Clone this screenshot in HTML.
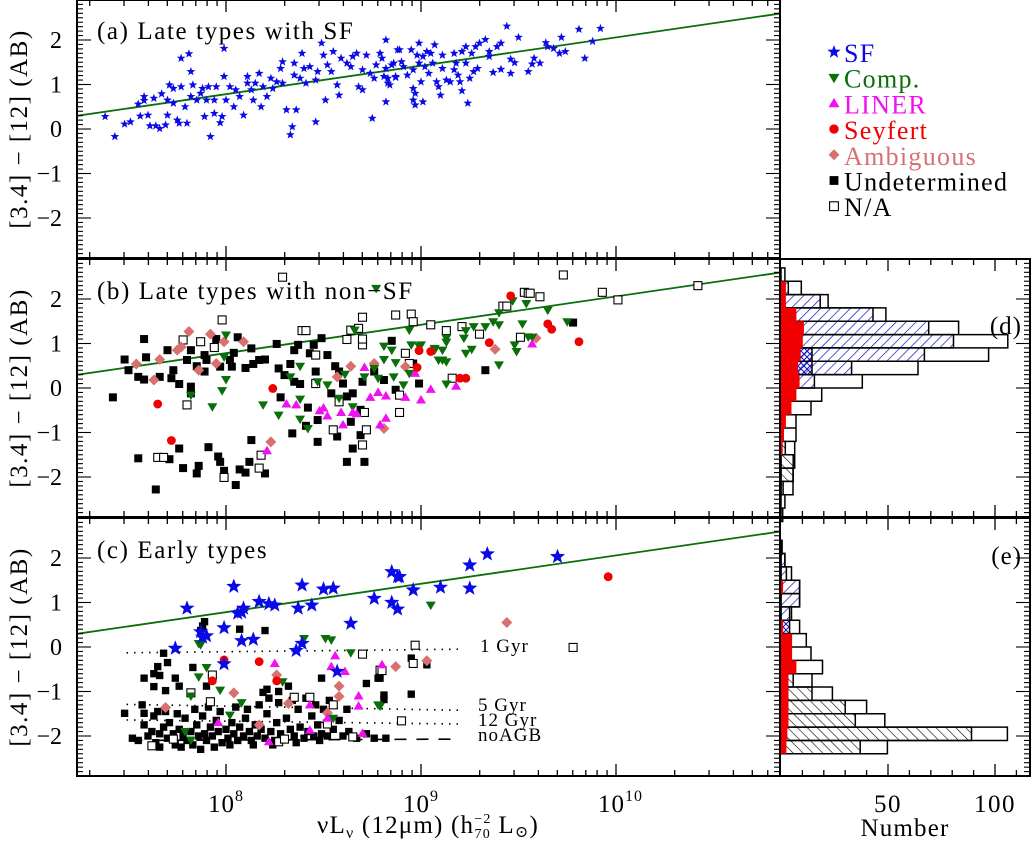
<!DOCTYPE html>
<html><head><meta charset="utf-8"><style>
html,body{margin:0;padding:0;background:#fff}
svg{display:block}
text{font-family:"Liberation Serif","DejaVu Serif",serif;fill:#000}
</style></head><body>
<svg id="chart" width="1036" height="842" viewBox="0 0 1036 842" xmlns="http://www.w3.org/2000/svg">
<defs>
<pattern id="hatchBlue" patternUnits="userSpaceOnUse" width="7" height="7" patternTransform="rotate(45)"><line x1="0" y1="0" x2="0" y2="7" stroke="#1010c0" stroke-width="1.4"/></pattern>
<pattern id="hatchBlack" patternUnits="userSpaceOnUse" width="7" height="7" patternTransform="rotate(-45)"><line x1="0" y1="0" x2="0" y2="7" stroke="#000" stroke-width="1.2"/></pattern>
<pattern id="hatchCross" patternUnits="userSpaceOnUse" width="6" height="6"><path d="M0,0L6,6M6,0L0,6" stroke="#1010c0" stroke-width="1"/></pattern>
</defs>
<g id="marks"></g>
<g id="axes"></g>
<text x="97" y="39" font-size="25" letter-spacing="1.6">(a) Late types with SF</text>
<text x="97" y="299" font-size="25" letter-spacing="1.6">(b) Late types with non−SF</text>
<text x="97" y="558" font-size="25" letter-spacing="1.6">(c) Early types</text>
<text x="1022" y="334" font-size="25" text-anchor="end" letter-spacing="1">(d)</text>
<text x="1022" y="564" font-size="25" text-anchor="end" letter-spacing="1">(e)</text>
<text x="480" y="652" font-size="19" letter-spacing="1">1 Gyr</text>
<text x="478" y="711" font-size="19" letter-spacing="1">5 Gyr</text>
<text x="478" y="726" font-size="19" letter-spacing="1">12 Gyr</text>
<text x="478" y="741" font-size="19" letter-spacing="1">noAGB</text>
<text x="428" y="833" font-size="25" letter-spacing="1.2" text-anchor="middle">νL<tspan font-size="16" dy="5">ν</tspan><tspan dy="-5"> (12μm) (h</tspan><tspan font-size="14" dy="-10">−2</tspan><tspan font-size="14" dx="-17" dy="15">70</tspan><tspan dy="-5">  L</tspan><tspan font-size="16" dy="4">⊙</tspan><tspan dy="-4">)</tspan></text>
<text x="905" y="836" font-size="25" letter-spacing="1.2" text-anchor="middle">Number</text>
<text transform="translate(27,129) rotate(-90)" font-size="25" letter-spacing="1.5" text-anchor="middle">[3.4] − [12] (AB)</text>
<text transform="translate(27,388) rotate(-90)" font-size="25" letter-spacing="1.5" text-anchor="middle">[3.4] − [12] (AB)</text>
<text transform="translate(27,647) rotate(-90)" font-size="25" letter-spacing="1.5" text-anchor="middle">[3.4] − [12] (AB)</text>
<g id="legend"></g>
</svg>
<script>
// ---------- data ----------
const aSF = [[7.38,0.28],[7.43,-0.17],[7.48,0.11],[7.51,0.16],[7.55,0.56],[7.56,0.29],[7.58,0.73],[7.58,0.64],[7.60,0.31],[7.61,0.07],[7.63,0.69],[7.64,0.07],[7.66,0.01],[7.67,0.79],[7.69,0.09],[7.70,0.31],[7.70,0.65],[7.71,0.99],[7.73,0.91],[7.73,0.58],[7.75,0.20],[7.76,0.13],[7.77,1.59],[7.77,0.95],[7.79,0.50],[7.80,0.13],[7.81,1.69],[7.82,0.73],[7.82,1.29],[7.83,0.99],[7.85,0.65],[7.87,0.80],[7.88,0.91],[7.89,0.28],[7.90,0.65],[7.91,0.95],[7.92,-0.17],[7.94,0.35],[7.94,0.65],[7.95,0.95],[7.97,0.14],[7.98,0.28],[7.99,1.81],[7.99,1.18],[8.00,0.65],[8.02,0.95],[8.04,0.50],[8.05,0.88],[8.07,0.73],[8.09,0.31],[8.11,1.03],[8.11,1.18],[8.13,0.88],[8.14,0.65],[8.15,1.03],[8.17,1.25],[8.18,0.50],[8.19,0.95],[8.21,0.73],[8.23,1.14],[8.24,0.91],[8.26,1.06],[8.28,1.36],[8.29,1.51],[8.29,1.03],[8.31,0.43],[8.33,-0.13],[8.34,0.05],[8.35,1.48],[8.35,1.21],[8.36,0.43],[8.38,1.14],[8.39,1.70],[8.40,1.36],[8.41,1.03],[8.43,1.40],[8.46,1.10],[8.46,0.16],[8.47,1.29],[8.49,1.93],[8.50,1.66],[8.51,0.65],[8.52,1.44],[8.54,1.29],[8.55,1.74],[8.57,0.99],[8.58,0.76],[8.59,1.59],[8.62,1.48],[8.64,1.40],[8.65,1.63],[8.67,1.70],[8.68,0.95],[8.70,1.33],[8.70,0.88],[8.72,1.66],[8.74,1.25],[8.75,0.24],[8.76,1.14],[8.77,1.44],[8.79,1.70],[8.81,1.18],[8.82,2.00],[8.82,0.61],[8.83,1.03],[8.85,1.44],[8.87,1.18],[8.88,1.78],[8.80,1.59],[8.82,1.36],[8.83,1.14],[8.84,0.99],[8.87,1.16],[8.86,1.48],[8.89,1.78],[8.90,1.51],[8.91,1.40],[8.93,1.21],[8.95,1.78],[8.96,1.33],[8.96,0.91],[8.96,0.65],[8.97,0.54],[8.97,0.80],[8.98,1.66],[8.99,1.93],[8.99,1.48],[9.00,1.06],[9.01,0.61],[9.01,1.63],[9.02,1.40],[9.03,1.74],[9.04,1.25],[9.05,1.70],[9.06,1.48],[9.07,1.89],[9.08,1.06],[9.09,0.95],[9.10,0.76],[9.11,1.66],[9.11,1.36],[9.13,1.10],[9.15,1.06],[9.17,1.70],[9.17,1.33],[9.18,1.48],[9.19,1.21],[9.20,1.06],[9.21,1.74],[9.21,0.86],[9.23,1.48],[9.23,1.85],[9.24,0.58],[9.25,1.14],[9.26,1.70],[9.27,1.29],[9.28,1.85],[9.29,1.36],[9.30,1.93],[9.33,2.01],[9.35,1.74],[9.35,1.63],[9.37,1.27],[9.39,1.85],[9.41,1.93],[9.41,1.34],[9.44,2.31],[9.46,1.57],[9.46,1.25],[9.48,1.49],[9.50,2.06],[9.55,1.29],[9.57,1.46],[9.58,1.59],[9.61,1.48],[9.64,1.94],[9.65,1.85],[9.68,1.81],[9.71,1.70],[9.72,2.06],[9.74,1.74],[9.81,2.24],[9.84,1.59],[9.88,1.97],[9.92,2.26]];
const bUndet = [[7.42,-0.21],[7.48,0.64],[7.50,0.40],[7.55,0.25],[7.58,0.19],[7.58,1.10],[7.59,0.69],[7.66,0.25],[7.70,0.85],[7.72,0.22],[7.73,0.40],[7.76,0.09],[7.80,0.63],[7.82,0.03],[7.82,0.85],[7.82,-0.12],[7.85,0.49],[7.89,0.37],[7.89,0.74],[7.90,0.63],[7.95,1.10],[7.97,0.48],[8.02,0.63],[8.03,0.48],[8.04,0.79],[8.06,1.14],[8.10,0.45],[8.13,0.89],[8.14,0.54],[8.17,0.63],[8.20,0.64],[8.26,0.99],[8.27,0.44],[8.28,-0.21],[8.30,0.29],[8.33,0.54],[8.35,0.85],[8.35,0.14],[8.37,0.97],[8.38,0.09],[8.42,-0.44],[8.43,0.78],[8.45,0.97],[8.46,0.37],[8.47,-0.72],[8.49,1.12],[8.52,0.74],[8.54,-0.12],[8.56,0.49],[8.58,0.37],[8.60,0.10],[8.62,-0.19],[8.65,-0.12],[8.64,-0.76],[8.69,-0.49],[8.69,-1.06],[8.70,0.14],[8.71,-1.66],[8.62,-1.66],[8.65,-1.36],[8.57,-1.09],[8.47,-1.21],[8.41,-0.85],[8.34,-1.02],[8.20,-1.92],[8.13,-1.17],[8.12,-1.66],[8.10,-1.90],[8.07,-1.83],[8.05,-2.18],[7.99,-1.86],[7.97,-1.66],[7.96,-1.54],[7.91,-1.33],[7.86,-1.75],[7.85,-1.92],[7.78,-1.80],[7.76,-1.36],[7.71,-1.60],[7.64,-2.28],[7.55,-1.58],[8.85,1.06],[8.81,0.18],[8.76,0.37],[8.96,0.55],[8.99,0.10],[8.87,-0.04],[9.78,1.47],[9.33,0.40]];
const bNA = [[8.29,2.49],[7.98,1.53],[7.78,1.08],[7.87,1.04],[7.94,0.91],[7.80,-0.38],[7.65,-1.56],[7.68,-1.56],[7.99,-2.01],[8.17,-1.80],[8.18,-1.51],[8.39,1.29],[8.41,1.29],[8.46,0.74],[8.46,0.10],[8.55,-0.94],[8.58,-0.31],[8.62,1.09],[8.64,1.30],[8.68,1.34],[8.70,1.59],[8.70,0.97],[8.70,1.10],[8.71,-0.55],[8.72,-0.94],[8.70,-1.28],[8.87,1.64],[8.95,1.66],[8.96,1.49],[8.94,0.55],[8.89,-0.16],[8.89,-0.55],[9.05,1.42],[8.92,0.78],[9.13,1.29],[9.21,1.38],[9.30,1.21],[9.42,1.84],[9.44,1.84],[9.53,2.15],[9.55,2.13],[9.56,2.13],[9.61,2.05],[9.73,2.54],[9.93,2.15],[10.01,1.98],[10.42,2.30],[9.51,1.14],[9.16,0.22]];
const bComp = [[8.00,1.19],[7.99,0.70],[8.00,0.19],[7.98,-0.06],[7.82,-0.16],[7.93,-0.42],[8.19,-0.38],[8.27,-0.61],[8.33,0.25],[8.38,0.49],[8.38,-0.25],[8.38,-0.70],[8.42,-0.91],[8.47,0.14],[8.52,0.07],[8.58,-0.23],[8.61,0.31],[8.66,1.30],[8.65,-0.42],[8.71,0.25],[8.76,0.44],[8.78,0.22],[8.81,0.94],[8.81,0.64],[8.85,0.85],[8.87,0.57],[8.86,0.25],[8.91,0.07],[8.94,1.30],[8.95,0.97],[8.94,0.33],[8.99,0.94],[9.00,0.97],[9.07,0.89],[9.09,0.63],[8.77,2.24],[9.07,0.85],[9.11,0.85],[9.11,0.63],[9.13,0.59],[9.13,1.12],[9.13,1.03],[9.22,1.12],[9.23,1.29],[9.27,1.38],[9.33,1.38],[9.37,1.49],[9.40,1.42],[9.40,1.69],[9.47,1.96],[9.54,1.90],[9.65,1.75],[9.75,1.49],[9.52,1.44],[9.55,1.15],[9.57,1.14],[9.48,0.97],[9.49,0.82],[9.26,0.87],[9.23,0.78],[9.40,0.52],[9.13,0.09]];
const bSey = [[7.65,-0.36],[7.72,-1.18],[8.24,-0.01],[8.99,0.84],[9.05,0.82],[8.98,0.46],[9.46,2.07],[9.35,1.02],[9.65,1.44],[9.67,1.32],[9.81,1.04],[9.20,0.22],[9.23,0.22]];
const bLiner = [[8.21,-1.41],[8.31,-0.36],[8.36,-0.38],[8.48,-0.51],[8.50,-0.45],[8.52,-0.63],[8.59,-0.55],[8.65,-0.55],[8.67,-0.58],[8.71,0.46],[8.74,-0.21],[8.78,-0.10],[8.82,-0.18],[8.82,-0.68],[8.79,-0.83],[8.92,-0.21],[8.97,0.33],[9.00,-0.27],[9.05,-0.03],[8.60,-0.83],[9.18,0.04],[9.57,0.99]];
const bAmb = [[7.54,0.54],[7.63,0.18],[7.66,0.64],[7.75,0.85],[7.77,0.92],[7.81,1.27],[7.92,1.21],[7.99,1.04],[8.09,1.04],[7.95,0.55],[7.86,0.40],[8.23,-1.21],[8.64,0.49],[8.76,0.55],[8.81,-0.91],[8.92,0.48],[8.57,0.25],[9.38,0.87],[9.59,1.12]];
const cSF = [[7.80,0.87],[7.74,-0.03],[7.87,0.34],[7.90,0.25],[7.88,0.22],[7.99,0.43],[8.04,1.36],[8.06,0.76],[8.09,0.87],[8.08,0.78],[8.08,0.14],[8.14,0.17],[8.17,1.02],[8.22,0.97],[8.25,0.94],[7.99,-0.38],[8.36,-0.08],[8.39,0.08],[8.37,0.87],[8.39,1.39],[8.44,0.94],[8.50,1.30],[8.55,1.32],[8.64,0.53],[8.57,-0.55],[8.76,1.09],[8.85,1.69],[8.88,1.58],[8.89,1.58],[8.85,1.00],[8.88,0.85],[8.96,1.28],[9.10,1.34],[9.25,1.84],[9.34,2.09],[9.25,1.32],[9.70,2.03]];
const cComp = [[9.05,0.94],[7.86,0.08],[7.87,0.05],[7.90,-0.46],[7.86,-0.67],[7.97,-0.97],[7.82,-1.10],[8.08,-1.25],[8.02,-1.53],[7.79,-1.90],[7.82,-2.09],[8.29,-0.78],[8.40,0.19],[8.51,0.19],[8.54,0.16],[8.64,-0.13],[8.55,-1.60],[8.78,-1.30],[8.79,-1.33]];
const cSey = [[7.99,-0.29],[8.17,-0.33],[7.93,-0.76],[8.26,-0.76],[9.96,1.58]];
const cLiner = [[8.25,-0.37],[8.56,-0.20],[8.54,-0.44],[8.61,-0.55],[8.68,-1.10],[8.68,-1.33],[8.43,-1.30],[8.52,-1.60],[8.43,-1.87],[8.70,-1.94],[8.22,-2.13],[7.96,-1.70],[8.80,-0.40]];
const cAmb = [[8.26,-0.63],[8.04,-1.03],[7.69,-1.36],[8.32,-1.27],[8.17,-1.75],[8.58,-0.88],[8.58,-1.11],[8.52,-1.48],[8.87,-0.44],[9.03,-0.31],[9.44,0.55]];
const cNA = [[8.70,-0.16],[7.93,-0.63],[7.82,-1.03],[7.92,-1.23],[8.35,-1.13],[8.43,-1.13],[8.55,-1.30],[8.52,-1.73],[8.65,-2.02],[8.27,-2.13],[8.30,-2.07],[7.73,-2.07],[7.62,-2.22],[8.79,-0.52],[8.97,0.04],[8.96,-0.37],[8.80,-0.53],[8.90,-1.66],[9.78,-0.01]];
const cUndet = [[7.89,0.57],[7.88,0.47],[7.87,0.37],[8.07,0.40],[8.20,0.37],[7.68,-0.14],[7.65,-0.44],[7.70,-0.35],[7.58,-0.70],[7.63,-0.60],[7.66,-0.64],[7.63,-0.89],[7.74,-0.70],[7.76,-0.88],[7.69,-0.98],[7.83,-0.46],[7.90,-0.88],[8.49,-0.70],[8.32,-0.88],[8.27,-1.00],[8.19,-1.02],[8.21,-0.95],[8.72,-0.82],[8.78,-0.70],[7.57,-1.30],[7.48,-1.49],[7.58,-1.49],[7.65,-1.45],[8.95,-0.25],[9.03,-0.40],[8.79,-0.70],[8.81,-1.08],[8.81,-1.18],[8.95,-1.06],
[7.52,-2.05],[7.55,-2.10],[7.60,-2.00],[7.62,-1.90],[7.64,-2.15],[7.66,-2.25],[7.68,-1.80],[7.70,-2.05],[7.71,-1.70],[7.73,-1.95],[7.74,-2.20],[7.76,-1.85],[7.78,-2.00],[7.79,-1.60],[7.80,-2.10],[7.82,-1.90],[7.83,-2.20],[7.85,-1.75],[7.86,-2.00],[7.88,-1.55],[7.89,-1.95],[7.90,-2.10],[7.92,-1.80],[7.93,-2.00],[7.95,-1.65],[7.96,-1.90],[7.98,-2.15],[8.00,-1.85],[8.01,-2.05],[8.03,-1.70],[8.04,-1.95],[8.06,-2.10],[8.07,-1.80],[8.09,-2.00],[8.10,-1.60],[8.12,-1.90],[8.13,-2.10],[8.15,-1.75],[8.16,-2.00],[8.18,-1.85],[8.20,-2.05],[8.21,-1.50],[8.23,-1.90],[8.25,-2.10],[8.26,-1.70],[8.28,-1.95],[8.30,-2.05],[8.31,-1.60],[8.33,-1.85],[8.35,-2.00],[8.37,-1.40],[8.38,-1.80],[8.40,-2.05],[8.42,-1.90],[8.44,-1.55],[8.45,-2.00],[8.47,-1.75],[8.49,-1.95],[8.50,-1.40],[8.52,-2.00],[8.55,-1.85],[8.58,-1.65],[8.60,-2.00],[8.63,-1.90],[8.67,-2.05],[8.72,-1.95],[8.76,-2.05],[8.82,-2.05],[7.58,-1.75],[7.63,-1.55],[7.69,-1.45],[7.75,-1.50],[7.84,-1.40],[7.91,-1.35],[7.97,-1.45],[8.05,-1.35],[8.11,-1.40],[8.17,-1.30],[8.22,-1.15],[8.27,-1.25],[8.34,-1.20],[8.41,-1.15],[8.46,-1.30],[8.53,-1.20],[8.62,-1.40],[7.66,-1.95],[7.77,-2.25],[7.87,-2.30],[7.94,-2.25],[8.02,-2.20],[8.14,-2.20],[8.24,-2.20],[8.36,-2.15],[8.48,-2.10]];
const modelLines = [[7.49,9.19,-0.13,-0.05],[7.49,9.19,-1.29,-1.42],[7.49,9.19,-1.64,-1.73],[7.51,9.19,-2.10,-2.07]];
const fitLine = [[7.21,0.28],[10.85,2.6]];
const binTop = 2.7, binW = 0.3;
const dTotal = [1.8,9.5,22,49,83,106,97,64,38,19,14,7,7,6.4,6.4,5.6,5.6,1.8,0.8];
const dSF    = [0,3.4,18.3,43,69,80.6,67,33,15.6,0,0,0,0,0,0,0,0,0,0];
const dCross = [0,0,0,0,0,0,14.5,14.5,0,0,0,0,0,0,0,0,0,0,0];
const dSey   = [0,2.3,2.3,7.2,10.7,10.2,9.2,8,8.7,7.2,4.9,2.3,1.4,0.8,0,0,0,0,0];
const dUndet = [0,0,0,0,0,0,0,0,0,0,0,0,0,2,5.7,5.7,1,0,0];
const eTotal = [0,0.5,1.8,4.9,8.7,8.7,4.9,8.7,11.8,14,19.4,14.5,24,40,48.5,105.8,49.7,0,0];
const eSF    = [0,0,1.8,2.5,8.7,8.7,4,0,0,0,0,0,0,0,0,0,0,0,0];
const eCross = [0,0,0,0,0,0,0,4,0,0,0,0,0,0,0,0,0,0,0];
const eSey   = [0,0,0,0,1,0,0,1,5.2,5.2,7.2,3.5,3.5,3.5,3.5,3,2.5,0,0];
const eUndet = [0,0,0,0,0,0,0,0,0,0,4,5.7,14.5,30,34.7,89,37,0,0];
const xTickLabels = ["8","9","10"];
const histTickLabels = ["50","100"];
const yTickLabels = ["2","1","0","−1","−2"];
const legendLabels = ["SF","Comp.","LINER","Seyfert","Ambiguous","Undetermined","N/A"];

// ---------- geometry ----------
const NS="http://www.w3.org/2000/svg";
const L0=77, R0=780, HR=1030;
const zeros=[129,388,647], tops=[0,259,518], PH=258;
const X=l=>226+(l-8)*195;
const Y=(c,p)=>zeros[p]-c*44.5;
const HX=n=>781+n*2.14;
const BLUE="#0a0ae6", GREEN="#0a6e0a", MAG="#f010f0", RED="#f00000", AMB="#d87070";
const marks=document.getElementById('marks'), axes=document.getElementById('axes');
function mk(tag,attrs,parent){const e=document.createElementNS(NS,tag);for(const k in attrs)e.setAttribute(k,attrs[k]);(parent||marks).appendChild(e);return e;}
function starPath(cx,cy,r){let d="";for(let i=0;i<10;i++){const a=-Math.PI/2+i*Math.PI/5,rr=i%2?r*0.42:r;d+=(i?"L":"M")+(cx+rr*Math.cos(a)).toFixed(1)+","+(cy+rr*Math.sin(a)).toFixed(1);}return d+"Z";}
function sym(type,cx,cy,s,parent){
  let e;
  if(type==="star"){e=mk('path',{d:starPath(cx,cy,s),fill:BLUE},parent);}
  else if(type==="down"){e=mk('path',{d:`M${cx-s},${cy-s*0.7}L${cx+s},${cy-s*0.7}L${cx},${cy+s}Z`,fill:GREEN},parent);}
  else if(type==="up"){e=mk('path',{d:`M${cx-s},${cy+s*0.7}L${cx+s},${cy+s*0.7}L${cx},${cy-s}Z`,fill:MAG},parent);}
  else if(type==="circle"){e=mk('circle',{cx:cx,cy:cy,r:s*0.85,fill:RED},parent);}
  else if(type==="diamond"){e=mk('path',{d:`M${cx},${cy-s}L${cx+s},${cy}L${cx},${cy+s}L${cx-s},${cy}Z`,fill:AMB},parent);}
  else if(type==="square"){e=mk('rect',{x:cx-s*0.8,y:cy-s*0.8,width:s*1.6,height:s*1.6,fill:"#000"},parent);}
  else {e=mk('rect',{x:cx-s*0.8,y:cy-s*0.8,width:s*1.6,height:s*1.6,fill:"#fff",stroke:"#000","stroke-width":1.1},parent);}
  return e;
}
function plotSet(arr,type,p,s,name){
  const g=mk('g',{});
  
  
  arr.forEach(d=>{
    const e=sym(type,X(d[0]),Y(d[1],p),s,g);
    
    
  });
}
const defs=document.querySelector('defs');
[0,1,2].forEach(p=>{const c=mk('clipPath',{id:'clip'+p},defs);mk('rect',{x:L0,y:tops[p],width:R0-L0,height:PH},c);});
[0,1,2].forEach(p=>{
  const ln=mk('line',{x1:X(fitLine[0][0]),y1:Y(fitLine[0][1],p),x2:X(fitLine[1][0]),y2:Y(fitLine[1][1],p),stroke:GREEN,"stroke-width":1.8,"clip-path":`url(#clip${p})`});
  
  
});
modelLines.forEach((m,i)=>{
  const ln=mk('line',{x1:X(m[0]),y1:Y(m[2],2),x2:X(m[1]),y2:Y(m[3],2),stroke:"#000","stroke-width":1.6,"stroke-dasharray":i===3?"12,10":"1.5,6"});
  
  
});
plotSet(aSF,"star",0,4.6,"panel-a-sf");
plotSet(bUndet,"square",1,5,"panel-b-undetermined");
plotSet(bNA,"open",1,5,"panel-b-na");
plotSet(bAmb,"diamond",1,5.5,"panel-b-ambiguous");
plotSet(bComp,"down",1,5,"panel-b-composite");
plotSet(bLiner,"up",1,5,"panel-b-liner");
plotSet(bSey,"circle",1,5.2,"panel-b-seyfert");
plotSet(cUndet,"square",2,4.6,"panel-c-undetermined");
plotSet(cNA,"open",2,5,"panel-c-na");
plotSet(cAmb,"diamond",2,5.5,"panel-c-ambiguous");
plotSet(cComp,"down",2,5,"panel-c-composite");
plotSet(cLiner,"up",2,5,"panel-c-liner");
plotSet(cSey,"circle",2,5.2,"panel-c-seyfert");
plotSet(cSF,"star",2,8,"panel-c-sf");

function stepPath(counts,p){
  let d="";const x0=HX(0);
  counts.forEach((n,k)=>{
    const yt=Y(binTop-k*binW,p), yb=Y(binTop-(k+1)*binW,p);
    if(n<=0)return;
    d+=`M${x0},${yt.toFixed(1)}H${HX(n).toFixed(1)}V${yb.toFixed(1)}H${x0}Z`;
  });
  return d;
}
function hist(counts,p,fill,stroke,name){
  const e=mk('path',{d:stepPath(counts,p),fill:fill,stroke:stroke||"none","stroke-width":1.5});
  
  
}
hist(dTotal,1,"#fff","#000","hist-d-total");
hist(dSF,1,"url(#hatchBlue)","#000","hist-d-sf");
hist(dCross,1,"url(#hatchCross)","#000","hist-d-composite");
hist(dUndet,1,"url(#hatchBlack)","#000","hist-d-undetermined");
hist(dSey,1,RED,"none","hist-d-seyfert");
hist(eTotal,2,"#fff","#000","hist-e-total");
hist(eSF,2,"url(#hatchBlue)","#000","hist-e-sf");
hist(eCross,2,"url(#hatchCross)","#000","hist-e-composite");
hist(eUndet,2,"url(#hatchBlack)","#000","hist-e-undetermined");
hist(eSey,2,RED,"none","hist-e-seyfert");

function line(x1,y1,x2,y2,w){return mk('line',{x1,y1,x2,y2,stroke:"#000","stroke-width":w||1.3},axes);}
[0,1,2].forEach(p=>{
  const t=tops[p], b=t+PH;
  const fr=mk('rect',{x:L0,y:t,width:R0-L0,height:PH,fill:"none",stroke:"#000","stroke-width":2},axes);
  
  
  for(let dec=7;dec<=10;dec++)for(let m=1;m<=9;m++){
    const l=dec+Math.log10(m); if(l<7.246||l>10.84)continue;
    const x=X(l), len=m===1?12:6;
    line(x,b,x,b-len,1.3); line(x,t,x,t+len,1.3);
  }
  for(let i=-29;i<=29;i++){
    const v=i/10, y=Y(v,p), len=(i%10===0)?14:6;
    line(L0,y,L0+len,y,1.1); line(R0,y,R0-len,y,1.1);
    if(p>0) line(HR,y,HR-len,y,1.1);
  }
  yTickLabels.forEach((s,i)=>{
    const v=2-i;
    const tx=mk('text',{x:62,y:Y(v,p)+8,"font-size":24,"text-anchor":"end"},axes);
    tx.textContent=s;
    
    
  });
});
[1,2].forEach(p=>{
  const t=tops[p], b=t+PH;
  const fr=mk('rect',{x:R0,y:t,width:HR-R0,height:PH,fill:"none",stroke:"#000","stroke-width":2},axes);
  
  
  for(let n=10;n<=110;n+=10){const x=HX(n);if(x>HR-2)continue;const len=n%50===0?12:6;line(x,b,x,b-len,1.3);line(x,t,x,t+len,1.3);}
});
line(R0,0,R0,259,2);
xTickLabels.forEach(s=>{
  const x=X(+s);
  const tx=mk('text',{x:x-18,y:812,"font-size":25,"letter-spacing":1},axes);
  
  
  tx.innerHTML="10<tspan font-size='16' dy='-11'>"+s+"</tspan>";
});
histTickLabels.forEach(s=>{
  const tx=mk('text',{x:HX(+s),y:812,"font-size":25,"letter-spacing":1.5,"text-anchor":"middle"},axes);
  tx.textContent=s;
  
  
});
const leg=document.getElementById('legend');
const legTypes=["star","down","up","circle","diamond","square","open"];
const legColors=[BLUE,GREEN,MAG,RED,AMB,"#000","#000"];
legendLabels.forEach((s,i)=>{
  const y=53+i*25.7;
  const g=mk('g',{},leg);
  
  
  sym(legTypes[i],834,y-1,i===0?7:5.5,g);
  const tx=mk('text',{x:844,y:y+9,"font-size":26,"letter-spacing":1.3},g);
  tx.setAttribute('style','fill:'+legColors[i]);
  tx.textContent=s;
});
</script>
</body></html>
